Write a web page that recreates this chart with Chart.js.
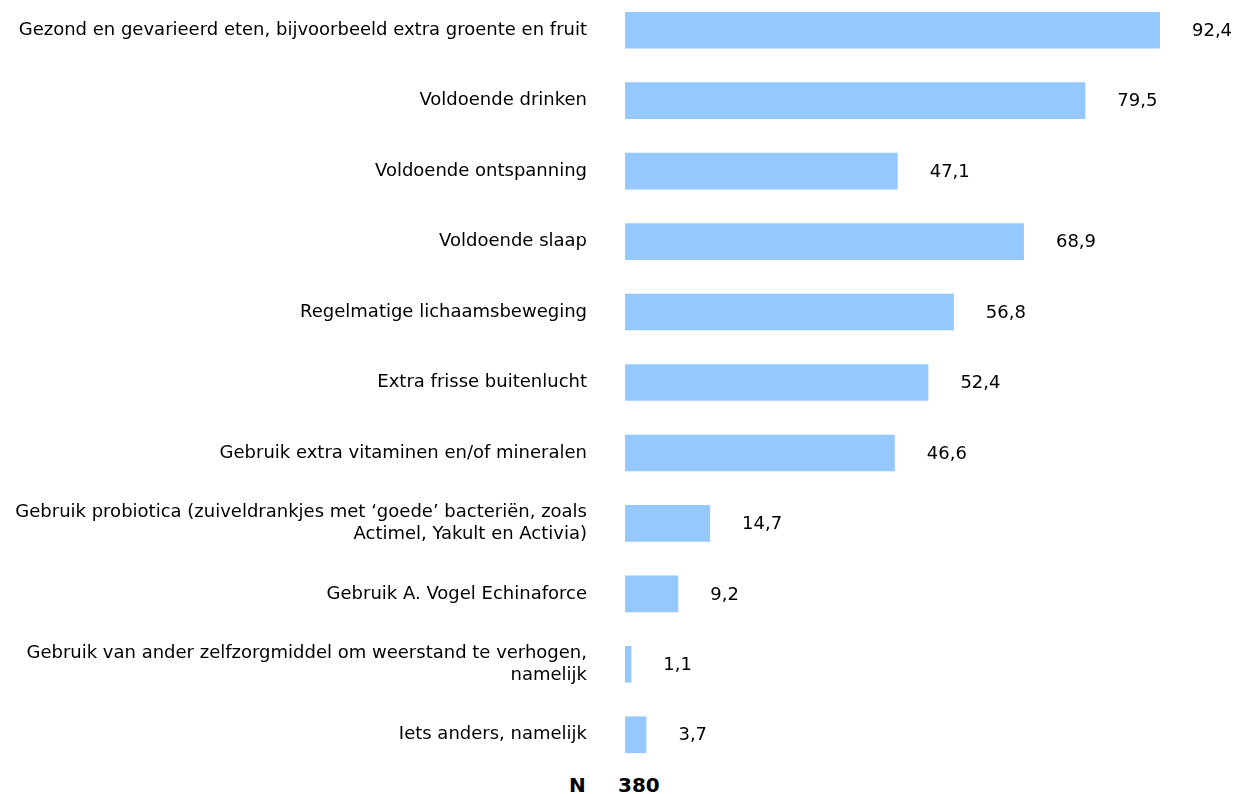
<!DOCTYPE html>
<html>
<head>
<meta charset="utf-8">
<script src="https://cdn.jsdelivr.net/npm/chart.js@4/dist/chart.umd.min.js"></script>
<style>
  html, body { margin: 0; padding: 0; background: #fff; overflow: hidden; }
  #chart { position: absolute; left: 0; top: -5px; }
  #n { position: absolute; top: 772px; left: 0; width: 1237px; font: bold 20px 'DejaVu Sans'; line-height: 26px; }
  #n span { position: absolute; }
</style>
</head>
<body>
<canvas id="chart" width="1237" height="775"></canvas>
<div id="n"><span style="left:569px">N</span><span style="left:618px">380</span></div>
<script>
const labels = [
  "Gezond en gevarieerd eten, bijvoorbeeld extra groente en fruit",
  "Voldoende drinken",
  "Voldoende ontspanning",
  "Voldoende slaap",
  "Regelmatige lichaamsbeweging",
  "Extra frisse buitenlucht",
  "Gebruik extra vitaminen en/of mineralen",
  ["Gebruik probiotica (zuiveldrankjes met \u2018goede\u2019 bacteri\u00ebn, zoals", "Actimel, Yakult en Activia)"],
  "Gebruik A. Vogel Echinaforce",
  ["Gebruik van ander zelfzorgmiddel om weerstand te verhogen,", "namelijk"],
  "Iets anders, namelijk"
];
const values = [92.4, 79.5, 47.1, 68.9, 56.8, 52.4, 46.6, 14.7, 9.2, 1.1, 3.7];

const fontFamily = "DejaVu Sans";

// waarde rechts naast elke balk
const valueLabels = {
  id: "valueLabels",
  afterDatasetsDraw(chart) {
    const ctx = chart.ctx;
    const meta = chart.getDatasetMeta(0);
    ctx.save();
    ctx.font = "18px 'DejaVu Sans'";
    ctx.fillStyle = "#000";
    ctx.textAlign = "left";
    ctx.textBaseline = "middle";
    meta.data.forEach(function (bar, i) {
      ctx.fillText(values[i].toFixed(1).replace(".", ","), bar.x + 32, bar.y + 1);
    });
    ctx.restore();
  }
};

new Chart(document.getElementById("chart"), {
  type: "bar",
  data: {
    labels: labels,
    datasets: [{
      data: values,
      backgroundColor: "#94c8ff",
      barPercentage: 0.52,
      categoryPercentage: 1
    }]
  },
  options: {
    indexAxis: "y",
    responsive: false,
    animation: false,
    events: [],
    layout: { padding: { left: 0, right: 33, top: 0, bottom: 0 } },
    scales: {
      x: { display: false, min: 0, max: 100 },
      y: {
        grid: { display: false, drawTicks: false },
        border: { display: false },
        ticks: {
          color: "#000",
          padding: 38,
          font: { family: fontFamily, size: 18, lineHeight: 1.25 }
        },
        afterFit: function (scale) {
          scale.width = 625;
          scale.paddingTop = 0;
          scale.paddingBottom = 0;
        }
      }
    },
    plugins: {
      legend: { display: false },
      tooltip: { enabled: false }
    }
  },
  plugins: [valueLabels]
});
</script>
</body>
</html>
